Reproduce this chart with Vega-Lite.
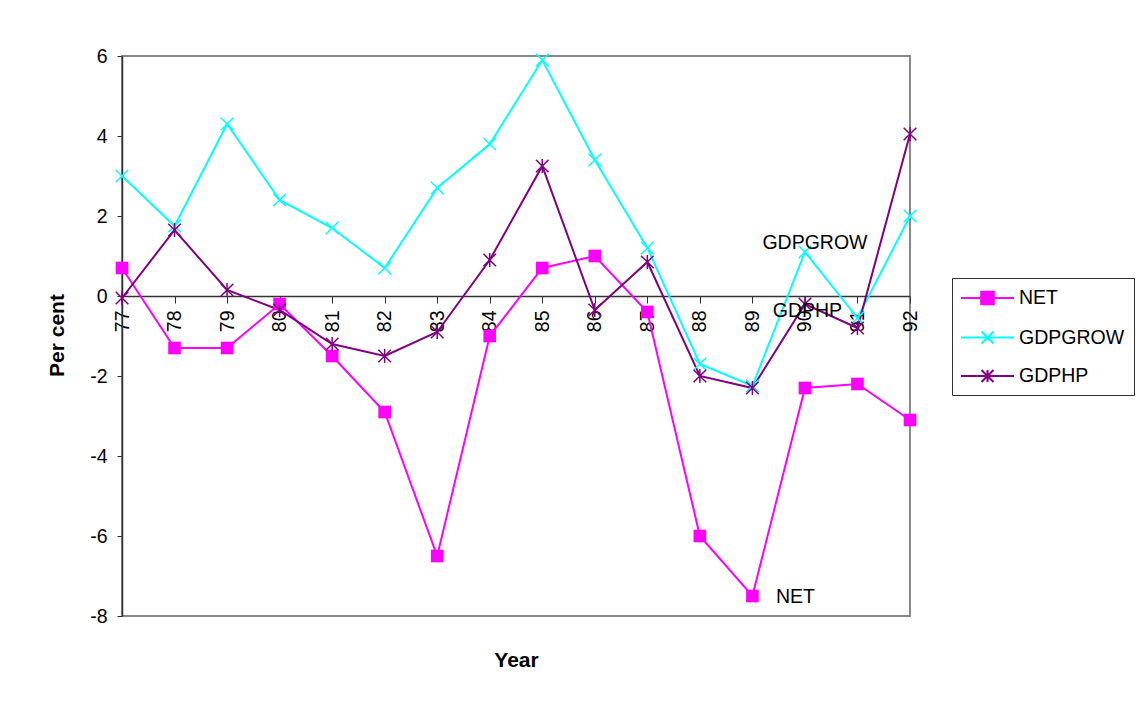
{
  "$schema": "https://vega.github.io/schema/vega-lite/v6.json",
  "width": 788,
  "height": 560,
  "autosize": {"type": "none"},
  "padding": {"left": 122, "top": 56, "right": 238, "bottom": 90},
  "background": "white",
  "config": {
    "font": "Liberation Sans",
    "view": {"stroke": "#888888", "strokeWidth": 2}
  },
  "data": {
    "values": [
      {"year": "77", "series": "NET", "value": 0.7},
      {"year": "78", "series": "NET", "value": -1.3},
      {"year": "79", "series": "NET", "value": -1.3},
      {"year": "80", "series": "NET", "value": -0.2},
      {"year": "81", "series": "NET", "value": -1.5},
      {"year": "82", "series": "NET", "value": -2.9},
      {"year": "83", "series": "NET", "value": -6.5},
      {"year": "84", "series": "NET", "value": -1.0},
      {"year": "85", "series": "NET", "value": 0.7},
      {"year": "86", "series": "NET", "value": 1.0},
      {"year": "87", "series": "NET", "value": -0.4},
      {"year": "88", "series": "NET", "value": -6.0},
      {"year": "89", "series": "NET", "value": -7.5},
      {"year": "90", "series": "NET", "value": -2.3},
      {"year": "91", "series": "NET", "value": -2.2},
      {"year": "92", "series": "NET", "value": -3.1},
      {"year": "77", "series": "GDPGROW", "value": 3.0},
      {"year": "78", "series": "GDPGROW", "value": 1.75},
      {"year": "79", "series": "GDPGROW", "value": 4.3},
      {"year": "80", "series": "GDPGROW", "value": 2.4},
      {"year": "81", "series": "GDPGROW", "value": 1.7},
      {"year": "82", "series": "GDPGROW", "value": 0.7},
      {"year": "83", "series": "GDPGROW", "value": 2.7},
      {"year": "84", "series": "GDPGROW", "value": 3.8},
      {"year": "85", "series": "GDPGROW", "value": 5.9},
      {"year": "86", "series": "GDPGROW", "value": 3.4},
      {"year": "87", "series": "GDPGROW", "value": 1.2},
      {"year": "88", "series": "GDPGROW", "value": -1.7},
      {"year": "89", "series": "GDPGROW", "value": -2.25},
      {"year": "90", "series": "GDPGROW", "value": 1.1},
      {"year": "91", "series": "GDPGROW", "value": -0.55},
      {"year": "92", "series": "GDPGROW", "value": 2.0},
      {"year": "77", "series": "GDPHP", "value": -0.05},
      {"year": "78", "series": "GDPHP", "value": 1.65},
      {"year": "79", "series": "GDPHP", "value": 0.15},
      {"year": "80", "series": "GDPHP", "value": -0.35},
      {"year": "81", "series": "GDPHP", "value": -1.2},
      {"year": "82", "series": "GDPHP", "value": -1.5},
      {"year": "83", "series": "GDPHP", "value": -0.9},
      {"year": "84", "series": "GDPHP", "value": 0.9},
      {"year": "85", "series": "GDPHP", "value": 3.25},
      {"year": "86", "series": "GDPHP", "value": -0.35},
      {"year": "87", "series": "GDPHP", "value": 0.85},
      {"year": "88", "series": "GDPHP", "value": -2.0},
      {"year": "89", "series": "GDPHP", "value": -2.3},
      {"year": "90", "series": "GDPHP", "value": -0.2},
      {"year": "91", "series": "GDPHP", "value": -0.8},
      {"year": "92", "series": "GDPHP", "value": 4.05}
    ]
  },
  "encoding": {
    "x": {
      "field": "year",
      "type": "ordinal",
      "scale": {"type": "point", "padding": 0},
      "axis": {
        "title": "Year",
        "offset": -320,
        "grid": false,
        "labelAngle": 270,
        "labelFontSize": 19.5,
        "labelColor": "black",
        "labelPadding": 7,
        "tickSize": 7,
        "tickColor": "#333333",
        "domainColor": "#333333",
        "domainWidth": 1.5,
        "titleFontSize": 21,
        "titleFontWeight": "bold",
        "titleColor": "black",
        "titleY": 370.7,
        "titleBaseline": "alphabetic"
      }
    },
    "y": {
      "field": "value",
      "type": "quantitative",
      "scale": {"domain": [-8, 6], "nice": false, "zero": false},
      "axis": {
        "title": "Per cent",
        "values": [-8, -6, -4, -2, 0, 2, 4, 6],
        "labelExpr": "toString(datum.value)",
        "grid": false,
        "labelFontSize": 19.5,
        "labelColor": "black",
        "labelPadding": 10,
        "tickSize": 5,
        "tickColor": "#333333",
        "domainColor": "#333333",
        "domainWidth": 1.5,
        "titleFontSize": 21,
        "titleFontWeight": "bold",
        "titleColor": "black",
        "titleAngle": 270,
        "titleAlign": "center",
        "titleBaseline": "alphabetic",
        "titleX": -59,
        "titleY": 279
      }
    }
  },
  "layer": [
    {
      "mark": {"type": "line", "strokeWidth": 2},
      "encoding": {
        "color": {
          "field": "series",
          "type": "nominal",
          "scale": {"domain": ["NET", "GDPGROW", "GDPHP"], "range": ["#FF00FF", "#00FFFF", "#800080"]},
          "legend": {
            "title": null,
            "orient": "none",
            "legendX": 830,
            "legendY": 222,
            "strokeColor": "#333333",
            "padding": 9,
            "symbolSize": 400,
            "symbolStrokeWidth": 2,
            "rowPadding": 17.5,
            "labelFontSize": 19.5,
            "labelColor": "black",
            "labelOffset": 36,
            "encode": {
              "symbols": {
                "update": {
                  "shape": [
                    {"test": "datum.value === 'NET'", "value": "M-1.1,0H4.2M0.92,-0.63H2.18V0.63H0.92Z"},
                    {"test": "datum.value === 'GDPGROW'", "value": "M-1.1,0H4.2M0.95,-0.6L2.15,0.6M0.95,0.6L2.15,-0.6"},
                    {"value": "M-1.1,0H4.2M0.95,-0.6L2.15,0.6M0.95,0.6L2.15,-0.6M1.55,-0.6V0.6"}
                  ],
                  "fill": [
                    {"test": "datum.value === 'NET'", "value": "#FF00FF"},
                    {"value": "transparent"}
                  ],
                  "stroke": [
                    {"test": "datum.value === 'NET'", "value": "#FF00FF"},
                    {"test": "datum.value === 'GDPGROW'", "value": "#00FFFF"},
                    {"value": "#800080"}
                  ],
                  "strokeWidth": {"value": 2},
                  "opacity": {"value": 1}
                }
              }
            }
          }
        }
      }
    },
    {
      "transform": [{"filter": "datum.series === 'NET'"}],
      "mark": {"type": "point", "shape": "square", "size": 160, "filled": true, "color": "#FF00FF", "opacity": 1}
    },
    {
      "transform": [{"filter": "datum.series === 'GDPGROW'"}],
      "mark": {"type": "point", "shape": "M-1,-1L1,1M-1,1L1,-1", "size": 160, "filled": false, "color": "#00FFFF", "strokeWidth": 1.5, "opacity": 1}
    },
    {
      "transform": [{"filter": "datum.series === 'GDPHP'"}],
      "mark": {"type": "point", "shape": "M-1,-1L1,1M-1,1L1,-1M0,-1.1V1.1", "size": 160, "filled": false, "color": "#800080", "strokeWidth": 1.5, "opacity": 1}
    },
    {
      "transform": [{"filter": "datum.series === 'GDPGROW' && datum.year === '90'"}],
      "mark": {"type": "text", "dx": 10, "dy": -3, "align": "center", "baseline": "alphabetic", "fontSize": 19.5, "color": "black"},
      "encoding": {"text": {"field": "series"}}
    },
    {
      "transform": [{"filter": "datum.series === 'GDPHP' && datum.year === '90'"}],
      "mark": {"type": "text", "dx": 2.5, "dy": 13, "align": "center", "baseline": "alphabetic", "fontSize": 19.5, "color": "black"},
      "encoding": {"text": {"field": "series"}}
    },
    {
      "transform": [{"filter": "datum.series === 'NET' && datum.year === '89'"}],
      "mark": {"type": "text", "dx": 23.5, "dy": 6.5, "align": "left", "baseline": "alphabetic", "fontSize": 19.5, "color": "black"},
      "encoding": {"text": {"field": "series"}}
    }
  ]
}
